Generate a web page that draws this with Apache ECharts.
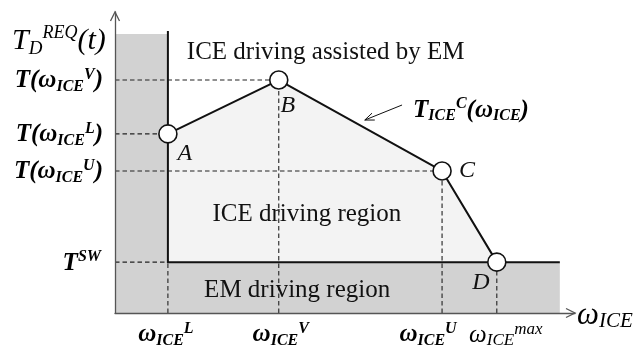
<!DOCTYPE html>
<html>
<head>
<meta charset="utf-8">
<script src="https://cdn.jsdelivr.net/npm/echarts@6/dist/echarts.min.js"></script>
<style>
  html, body { margin: 0; padding: 0; background: #ffffff; }
  #chart { width: 640px; height: 346px; }
</style>
</head>
<body>
<div id="chart"></div>
<script>
// ICE / EM operating regions in the speed-torque plane (normalised units)
const speedKeys = ['L', 'V', 'U', 'max'];
const speedValues = [1.15, 3.56, 7.11, 8.30];
const torqueKeys = ['SW', 'U', 'L', 'V'];
const torqueValues = [1.69, 4.72, 5.95, 7.74];

// corner points of the ICE torque envelope T_ICE^C(ω_ICE)
const cornerNames = ['A', 'B', 'C', 'D'];
const cornerSpeed = [1.15, 3.56, 7.11, 8.30];
const cornerTorque = [5.95, 7.74, 4.72, 1.69];

// extents of the EM-only band
const bandSpeedEnd = 9.67;
const bandTorqueTop = 9.27;
const boundaryTop = 9.37;

// axis ranges
const speedMax = 10;
const torqueMax = 10;

const serif = '"Liberation Serif", "Times New Roman", serif';
const INK = '#111111';

const rich = {
  bi:   { fontFamily: serif, fontSize: 25, fontStyle: 'italic', fontWeight: 'bold', lineHeight: 28, color: INK },
  bsub: { fontFamily: serif, fontSize: 16, fontStyle: 'italic', fontWeight: 'bold', lineHeight: 10, verticalAlign: 'bottom', color: INK },
  bsup: { fontFamily: serif, fontSize: 16, fontStyle: 'italic', fontWeight: 'bold', lineHeight: 19, verticalAlign: 'top', color: INK },
  ri:   { fontFamily: serif, fontSize: 25, fontStyle: 'italic', lineHeight: 28, color: INK },
  rsub: { fontFamily: serif, fontSize: 17, fontStyle: 'italic', lineHeight: 10, verticalAlign: 'bottom', color: INK },
  rsup: { fontFamily: serif, fontSize: 17, fontStyle: 'italic', lineHeight: 19, verticalAlign: 'top', color: INK },
  ti:   { fontFamily: serif, fontSize: 30, fontStyle: 'italic', lineHeight: 34, color: INK },
  tsub: { fontFamily: serif, fontSize: 19, fontStyle: 'italic', lineHeight: 10, verticalAlign: 'bottom', color: INK },
  tsup: { fontFamily: serif, fontSize: 18, fontStyle: 'italic', lineHeight: 22, verticalAlign: 'top', color: INK },
  ax:   { fontFamily: serif, fontSize: 31, fontStyle: 'italic', lineHeight: 32, color: INK },
  axs:  { fontFamily: serif, fontSize: 21, fontStyle: 'italic', lineHeight: 12, verticalAlign: 'bottom', color: INK }
};

function torqueLabel(key) {
  if (key === 'SW') return '{bi|T}{bsup|SW}';
  return '{bi|T(ω}{bsub|ICE}{bsup|' + key + '}{bi|)}';
}
function speedLabel(key) {
  if (key === 'max') return '{ri|ω}{rsub|ICE}{rsup|max}';
  return '{bi|ω}{bsub|ICE}{bsup|' + key + '}';
}
// horizontal nudges for the speed labels
const speedLabelShift = { L: -2, V: 2, U: -14, max: 9 };

const chart = echarts.init(document.getElementById('chart'));

function corner(i) { return [cornerSpeed[i], cornerTorque[i]]; }

const option = {
  animation: false,
  backgroundColor: '#ffffff',
  grid: { left: 115, right: 65, top: 12, bottom: 33, containLabel: false },
  xAxis: {
    type: 'value', min: 0, max: speedMax, z: 10,
    axisLine: { show: true, lineStyle: { color: '#555555', width: 1.3 } },
    axisTick: { show: false }, axisLabel: { show: false }, splitLine: { show: false }
  },
  yAxis: {
    type: 'value', min: 0, max: torqueMax, z: 10,
    axisLine: { show: true, lineStyle: { color: '#555555', width: 1.3 } },
    axisTick: { show: false }, axisLabel: { show: false }, splitLine: { show: false }
  },
  series: [
    // shaded regions
    {
      type: 'custom', z: 1, silent: true, data: [[0, 0]],
      renderItem: function (params, api) {
        const emBand = [
          [0, 0], [0, bandTorqueTop], [speedValues[0], bandTorqueTop],
          [speedValues[0], torqueValues[0]], [bandSpeedEnd, torqueValues[0]], [bandSpeedEnd, 0]
        ].map(p => api.coord(p));
        const iceRegion = [corner(0), corner(1), corner(2), corner(3), [speedValues[0], torqueValues[0]]]
          .map(p => api.coord(p));
        return {
          type: 'group',
          children: [
            { type: 'polygon', shape: { points: emBand }, style: { fill: '#d2d2d2' } },
            { type: 'polygon', shape: { points: iceRegion }, style: { fill: '#f3f3f3' } }
          ]
        };
      }
    },
    // dashed guide lines to the axes
    {
      type: 'custom', z: 3, silent: true, data: [[0, 0]],
      renderItem: function (params, api) {
        const dash = { stroke: '#222222', lineWidth: 1.1, lineDash: [4.5, 3] };
        const segs = [];
        // horizontal guides from the torque axis
        segs.push([[0, torqueValues[3]], corner(1)]);
        segs.push([[0, torqueValues[2]], corner(0)]);
        segs.push([[0, torqueValues[1]], corner(2)]);
        segs.push([[0, torqueValues[0]], [speedValues[0], torqueValues[0]]]);
        // vertical guides down to the speed axis
        segs.push([[speedValues[0], 0], [speedValues[0], torqueValues[0]]]);
        segs.push([[speedValues[1], 0], corner(1)]);
        segs.push([[speedValues[2], 0], corner(2)]);
        segs.push([[speedValues[3], 0], corner(3)]);
        return {
          type: 'group',
          children: segs.map(s => {
            const a = api.coord(s[0]), b = api.coord(s[1]);
            return { type: 'line', shape: { x1: a[0], y1: a[1], x2: b[0], y2: b[1] }, style: dash };
          })
        };
      }
    },
    // EM / ICE boundary
    {
      type: 'custom', z: 4, silent: true, data: [[0, 0]],
      renderItem: function (params, api) {
        const pts = [
          [speedValues[0], boundaryTop], [speedValues[0], torqueValues[0]], [bandSpeedEnd, torqueValues[0]]
        ].map(p => api.coord(p));
        return { type: 'polyline', shape: { points: pts }, style: { stroke: INK, lineWidth: 2, fill: null } };
      }
    },
    // ICE torque envelope with its corner points
    {
      type: 'line', z: 5, silent: true,
      data: cornerNames.map((n, i) => ({ name: n, value: corner(i) })),
      lineStyle: { color: INK, width: 2 },
      symbol: 'circle', symbolSize: 18,
      itemStyle: { color: '#ffffff', borderColor: INK, borderWidth: 1.6 },
      label: {
        show: true,
        formatter: p => p.name,
        fontFamily: serif, fontSize: 24, fontStyle: 'italic', color: INK,
        position: 'inside'
      },
      labelLayout: function (params) {
        const shift = { 0: [17, 20], 1: [9, 26], 2: [25, 0], 3: [-16, 21] }[params.dataIndex];
        return { x: params.rect.x + params.rect.width / 2 + shift[0], y: params.rect.y + params.rect.height / 2 + shift[1], align: 'center', verticalAlign: 'middle' };
      }
    },
    // axis arrows, tick texts and region annotations
    {
      type: 'custom', z: 12, silent: true, data: [[0, 0]],
      renderItem: function (params, api) {
        const kids = [];
        const yTip = api.coord([0, torqueMax]);
        const xTip = api.coord([speedMax, 0]);
        const arrowStyle = { stroke: '#555555', lineWidth: 1.3, fill: null };
        kids.push({ type: 'polyline', shape: { points: [[yTip[0] - 4.5, yTip[1] + 9], [yTip[0], yTip[1]], [yTip[0] + 4.5, yTip[1] + 9]] }, style: arrowStyle });
        kids.push({ type: 'polyline', shape: { points: [[xTip[0] - 9, xTip[1] - 4.5], [xTip[0], xTip[1]], [xTip[0] - 9, xTip[1] + 4.5]] }, style: arrowStyle });

        // axis titles
        kids.push({ type: 'text', x: yTip[0] - 103, y: yTip[1] + 29,
          style: { text: '{ti|T}{tsub|D}{tsup|REQ}{ti|(t)}', rich: rich, align: 'left', verticalAlign: 'middle' } });
        kids.push({ type: 'text', x: xTip[0] + 2, y: xTip[1] + 3,
          style: { text: '{ax|ω}{axs|ICE}', rich: rich, align: 'left', verticalAlign: 'middle' } });

        // torque tick texts
        torqueKeys.forEach((k, i) => {
          const p = api.coord([0, torqueValues[i]]);
          kids.push({ type: 'text', x: p[0] - (k === 'SW' ? 14 : 12), y: p[1] + 1,
            style: { text: torqueLabel(k), rich: rich, align: 'right', verticalAlign: 'middle' } });
        });
        // speed tick texts
        speedKeys.forEach((k, i) => {
          const p = api.coord([speedValues[i], 0]);
          kids.push({ type: 'text', x: p[0] + speedLabelShift[k], y: p[1] + 22,
            style: { text: speedLabel(k), rich: rich, align: 'center', verticalAlign: 'middle' } });
        });

        // region names
        const regionFont = { fontFamily: serif, fontSize: 25, fill: INK };
        const t1 = api.coord([4.58, 8.64]);
        kids.push({ type: 'text', x: t1[0], y: t1[1], style: Object.assign({ text: 'ICE driving assisted by EM', align: 'center', verticalAlign: 'middle' }, regionFont) });
        const t2 = api.coord([4.17, 3.26]);
        kids.push({ type: 'text', x: t2[0], y: t2[1], style: Object.assign({ text: 'ICE driving region', align: 'center', verticalAlign: 'middle' }, regionFont) });
        const t3 = api.coord([3.96, 0.76]);
        kids.push({ type: 'text', x: t3[0], y: t3[1], style: Object.assign({ text: 'EM driving region', align: 'center', verticalAlign: 'middle' }, regionFont) });

        // envelope name with pointer arrow
        const lab = api.coord([6.48, 6.74]);
        kids.push({ type: 'text', x: lab[0], y: lab[1],
          style: { text: '{bi|T}{bsub|ICE}{bsup|C}{bi|(ω}{bsub|ICE}{bi|)}', rich: rich, align: 'left', verticalAlign: 'middle' } });
        const tail = api.coord([6.24, 6.91]);
        const tip = api.coord([5.43, 6.41]);
        const ang = Math.atan2(tail[1] - tip[1], tail[0] - tip[0]);
        const hl = 10, hw = 0.38;
        kids.push({ type: 'line', shape: { x1: tail[0], y1: tail[1], x2: tip[0], y2: tip[1] }, style: { stroke: INK, lineWidth: 1 } });
        kids.push({ type: 'polyline', shape: { points: [
          [tip[0] + hl * Math.cos(ang + hw), tip[1] + hl * Math.sin(ang + hw)],
          [tip[0], tip[1]],
          [tip[0] + hl * Math.cos(ang - hw), tip[1] + hl * Math.sin(ang - hw)]
        ] }, style: { stroke: INK, lineWidth: 1, fill: null } });

        return { type: 'group', children: kids };
      }
    }
  ]
};

chart.setOption(option);
</script>
</body>
</html>
